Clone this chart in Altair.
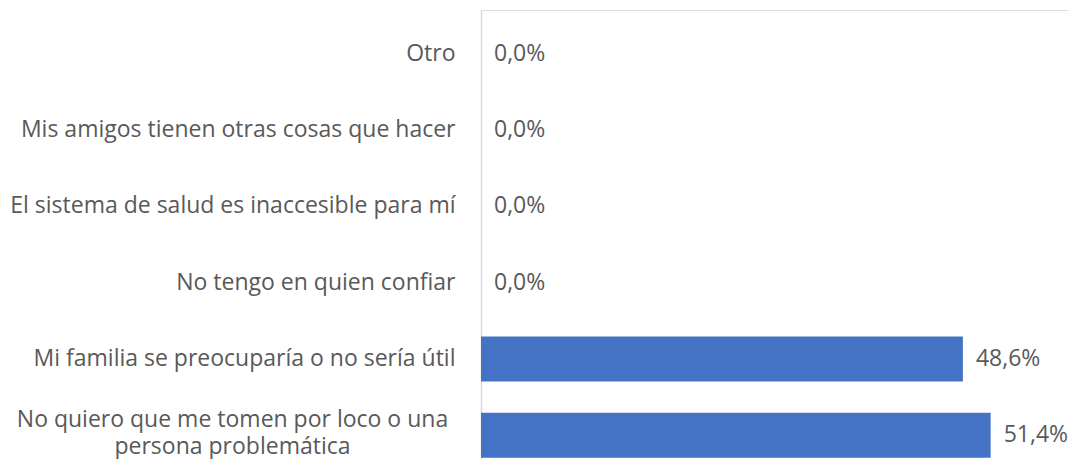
import altair as alt
import pandas as pd

categories = [
    "Otro",
    "Mis amigos tienen otras cosas que hacer",
    "El sistema de salud es inaccesible para mí",
    "No tengo en quien confiar",
    "Mi familia se preocuparía o no sería útil",
    "No quiero que me tomen por loco o una\npersona problemática",
]
values = [0.0, 0.0, 0.0, 0.0, 48.6, 51.4]

df = pd.DataFrame({"cat": categories, "v": values})

FONT = "Open Sans"
GREY = "#595959"
FS = 23
TEST = "indexof(datum.value, '\\n') >= 0"

y_enc = alt.Y(
    "cat:N",
    sort=categories,
    scale=alt.Scale(range=[0, 469], paddingInner=0.41, paddingOuter=0.28),
    axis=alt.Axis(
        title=None,
        ticks=False,
        domainColor="#d9d9d9",
        domainWidth=1.5,
        labelFont=FONT,
        labelFontSize=FS,
        labelColor=GREY,
        labelLimit=700,
        labelLineHeight=27,
        labelExpr="split(datum.label, '\\n')",
        labelAlign={"condition": {"test": TEST, "value": "center"}, "value": "right"},
        labelPadding={"condition": {"test": TEST, "value": 249}, "value": 26},
        labelOffset={"condition": {"test": TEST, "value": -15}, "value": 0},
    ),
)

x_enc = alt.X("v:Q", scale=alt.Scale(domain=[0, 59.2], nice=False), axis=None)

base = alt.Chart(df)

bars = base.mark_bar(color="#4472C4").encode(x=x_enc, y=y_enc)

labels = base.transform_calculate(
    lab="replace(format(datum.v, '.1f'), '.', ',') + '%'"
).mark_text(align="left", baseline="middle", dx=13, font=FONT, fontSize=FS, color=GREY).encode(
    x=x_enc, y=alt.Y("cat:N", sort=categories), text="lab:N"
)

chart = (
    alt.layer(bars, labels)
    .properties(
        width=587,
        height=449,
        autosize=alt.AutoSizeParams(type="none"),
        padding={"left": 473, "top": 2, "right": 0, "bottom": 0},
    )
    .configure_view(stroke=None)
    .configure(background="white")
)

chart.save("out.html", embed_options={"renderer": "svg", "actions": False})
